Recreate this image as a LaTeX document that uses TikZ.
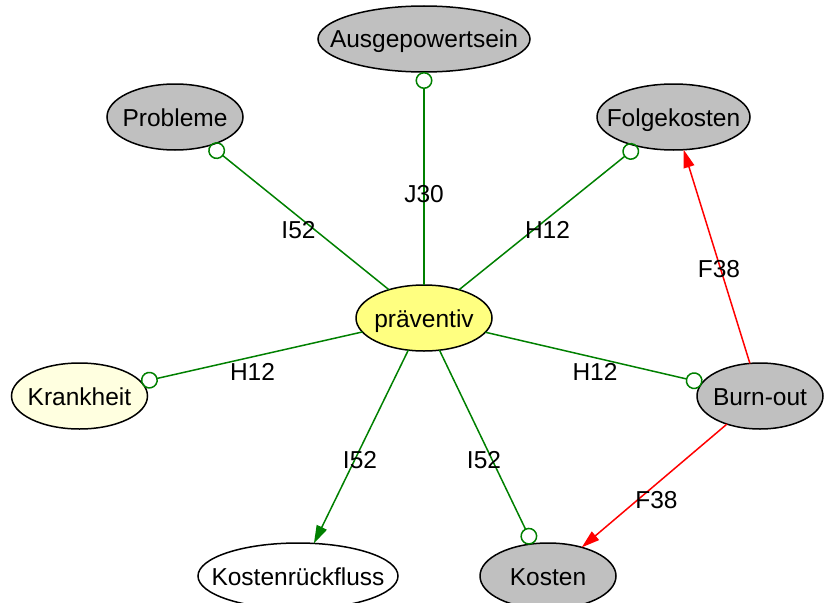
\documentclass[tikz,border=0pt]{standalone}
\usepackage{fontspec}
\setmainfont{Liberation Sans}
\usetikzlibrary{arrows.meta,shapes.geometric}
\definecolor{edgegreen}{RGB}{0,128,0}
\definecolor{edgered}{RGB}{255,0,0}
\definecolor{nodegrey}{RGB}{192,192,192}
\definecolor{focusyellow}{RGB}{255,255,128}
\definecolor{paleyellow}{RGB}{255,255,224}
\begin{document}
\begin{tikzpicture}[x=1pt,y=-1pt,
  labelfont/.style={font=\fontsize{24.5}{29}\selectfont},
  state/.style={ellipse, draw=black, line width=1.5pt, inner sep=0pt, outer sep=0pt,
    minimum height=66pt, text height=18pt, text depth=0pt, labelfont},
  greystate/.style={state, fill=nodegrey},
  lbl/.style={inner sep=0pt, text height=18pt, text depth=0pt, labelfont},
  rel/.style={draw=edgegreen, line width=1.5pt},
  relball/.style={rel, -{Circle[open,length=17pt]}},
  relarrow/.style={rel, -{Triangle[length=18pt,width=11pt]}},
  cause/.style={draw=edgered, line width=1.5pt, -{Triangle[length=18pt,width=11pt]}}
]
\useasboundingbox (0,0) rectangle (824,602);

% concepts
\node[greystate, minimum width=212pt] (aus) at (424,39) {\makebox[0pt]{Ausgepowertsein}};
\node[greystate, minimum width=136pt] (prob) at (175,117) {\makebox[0pt]{Probleme}};
\node[greystate, minimum width=153pt] (folge) at (673.5,117) {\makebox[0pt]{Folgekosten}};
\node[state, fill=focusyellow, minimum width=136pt] (prae) at (424,318) {\makebox[0pt]{präventiv}};
\node[state, fill=paleyellow, minimum width=136pt] (krank) at (79.5,396) {\makebox[0pt]{Krankheit}};
\node[greystate, minimum width=126pt] (burn) at (760,396) {\makebox[0pt]{Burn-out}};
\node[state, fill=white, minimum width=200pt] (rueck) at (298,576) {\makebox[0pt]{Kostenrückfluss}};
\node[greystate, minimum width=136pt] (kosten) at (548,576) {\makebox[0pt]{Kosten}};

% relations from the central concept
\draw[relball] (prae) -- (aus);
\draw[relball] (prae) -- (prob);
\draw[relball] (prae) -- (folge);
\draw[relball] (prae) -- (krank);
\draw[relball] (prae) -- (burn);
\draw[relarrow] (prae) -- (rueck);
\draw[relball] (prae) -- (kosten);

% causal relations
\draw[cause] (burn) -- (folge);
\draw[cause] (burn) -- (kosten);

% relation codes
\node[lbl] (lJ) at (424,193.5) {J30};
\node[lbl] (lIa) at (298.5,229) {I52};
\node[lbl] (lHa) at (547.5,229) {H12};
\node[lbl] (lHb) at (252.5,371.5) {H12};
\node[lbl] (lHc) at (595,371.5) {H12};
\node[lbl] (lIb) at (360,459.5) {I52};
\node[lbl] (lIc) at (484,459.5) {I52};
\node[lbl] (lFa) at (719,268) {F38};
\node[lbl] (lFb) at (656.5,499.5) {F38};
\end{tikzpicture}
\end{document}
